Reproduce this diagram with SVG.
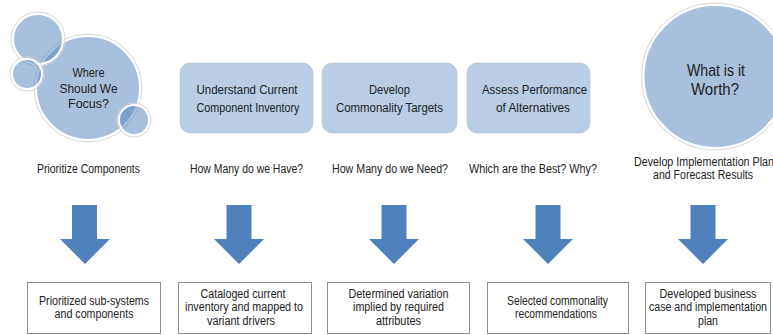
<svg xmlns="http://www.w3.org/2000/svg" width="773" height="335" viewBox="0 0 773 335">
  <style>
    text { font-family: "Liberation Sans", Arial, sans-serif; fill: #222222; text-anchor: middle; }
    .lbl { font-size: 12px; }
    .box { font-size: 12.5px; }
    .res { font-size: 12.5px; }
    .ball { fill: #4f81bd; fill-opacity: 0.5; stroke: #ffffff; stroke-width: 2; }
    .halo { fill: none; stroke: #d6d6d6; stroke-width: 1; }
    .step { fill: #b9cde5; stroke: #aebfd3; stroke-width: 0.6; }
    .result { fill: #ffffff; stroke: #8a929c; stroke-width: 1; }
    .arrow { fill: #4f81bd; }
  </style>

  <!-- focus cluster -->
  <g id="focus">
    <circle class="halo" cx="88" cy="88" r="54"/>
    <circle class="ball" cx="88" cy="88" r="52"/>
    <circle class="halo" cx="38" cy="39" r="27"/>
    <circle class="ball" cx="38" cy="39" r="25"/>
    <circle class="halo" cx="27" cy="74" r="17"/>
    <circle class="ball" cx="27" cy="74" r="15"/>
    <circle class="halo" cx="134" cy="120" r="17"/>
    <circle class="ball" cx="134" cy="120" r="15"/>
    <text class="box" x="88.5" y="77" textLength="32" lengthAdjust="spacingAndGlyphs">Where</text>
    <text class="box" x="88.5" y="93" textLength="58" lengthAdjust="spacingAndGlyphs">Should We</text>
    <text class="box" x="88.5" y="108" textLength="41" lengthAdjust="spacingAndGlyphs">Focus?</text>
  </g>

  <!-- process steps -->
  <g id="inventory">
    <rect class="step" x="180" y="63" width="133" height="70" rx="10"/>
    <text class="box" x="247" y="94" textLength="101" lengthAdjust="spacingAndGlyphs">Understand Current</text>
    <text class="box" x="248" y="112" textLength="103" lengthAdjust="spacingAndGlyphs">Component Inventory</text>
  </g>
  <g id="targets">
    <rect class="step" x="322" y="63" width="135" height="70" rx="10"/>
    <text class="box" x="389.5" y="94" textLength="41" lengthAdjust="spacingAndGlyphs">Develop</text>
    <text class="box" x="389.5" y="112" textLength="107" lengthAdjust="spacingAndGlyphs">Commonality Targets</text>
  </g>
  <g id="alternatives">
    <rect class="step" x="467" y="63" width="123" height="70" rx="10"/>
    <text class="box" x="534.5" y="94" textLength="105" lengthAdjust="spacingAndGlyphs">Assess Performance</text>
    <text class="box" x="533" y="112" textLength="74" lengthAdjust="spacingAndGlyphs">of Alternatives</text>
  </g>

  <!-- worth circle -->
  <g id="worth">
    <circle class="halo" cx="715" cy="76.5" r="73.5"/>
    <circle cx="715" cy="76.5" r="71.5" fill="#a7c0de" stroke="#ffffff" stroke-width="2"/>
    <text x="716" y="76" font-size="16" textLength="58" lengthAdjust="spacingAndGlyphs">What is it</text>
    <text x="715" y="95" font-size="16" textLength="48" lengthAdjust="spacingAndGlyphs">Worth?</text>
  </g>

  <!-- question labels -->
  <g id="labels">
    <text class="lbl" x="88.5" y="173" textLength="103" lengthAdjust="spacingAndGlyphs">Prioritize Components</text>
    <text class="lbl" x="246.5" y="173" textLength="113" lengthAdjust="spacingAndGlyphs">How Many do we Have?</text>
    <text class="lbl" x="390" y="173" textLength="116" lengthAdjust="spacingAndGlyphs">How Many do we Need?</text>
    <text class="lbl" x="533" y="173" textLength="128" lengthAdjust="spacingAndGlyphs">Which are the Best?  Why?</text>
    <text class="lbl" x="704" y="166" textLength="140" lengthAdjust="spacingAndGlyphs">Develop Implementation Plan</text>
    <text class="lbl" x="703" y="179" textLength="100" lengthAdjust="spacingAndGlyphs">and Forecast Results</text>
  </g>

  <!-- down arrows -->
  <g id="connectors">
    <polygon class="arrow" points="72,205 97,205 97,239 110,239 85,264 60,239 72,239"/>
    <polygon class="arrow" points="226.5,205 251.5,205 251.5,239 264,239 239,264 214,239 226.5,239"/>
    <polygon class="arrow" points="381.5,205 406.5,205 406.5,239 419,239 394,264 369,239 381.5,239"/>
    <polygon class="arrow" points="535.5,205 560.5,205 560.5,239 573,239 548,264 523,239 535.5,239"/>
    <polygon class="arrow" points="690.5,205 715.5,205 715.5,239 728,239 703,264 678,239 690.5,239"/>
  </g>

  <!-- outcomes -->
  <g id="outcome-priorities">
    <rect class="result" x="27.5" y="282.5" width="133" height="51"/>
    <text class="res" x="94" y="304.5" textLength="110" lengthAdjust="spacingAndGlyphs">Prioritized sub-systems</text>
    <text class="res" x="94" y="318" textLength="79" lengthAdjust="spacingAndGlyphs">and components</text>
  </g>
  <g id="outcome-catalog">
    <rect class="result" x="178.5" y="282.5" width="133" height="51"/>
    <text class="res" x="243" y="297.5" textLength="85" lengthAdjust="spacingAndGlyphs">Cataloged current</text>
    <text class="res" x="244" y="311" textLength="118" lengthAdjust="spacingAndGlyphs">inventory and mapped to</text>
    <text class="res" x="241" y="324.5" textLength="68" lengthAdjust="spacingAndGlyphs">variant drivers</text>
  </g>
  <g id="outcome-variation">
    <rect class="result" x="327.5" y="282.5" width="142" height="51"/>
    <text class="res" x="398.5" y="297.5" textLength="100" lengthAdjust="spacingAndGlyphs">Determined variation</text>
    <text class="res" x="398.5" y="311" textLength="91" lengthAdjust="spacingAndGlyphs">implied by required</text>
    <text class="res" x="398.5" y="324.5" textLength="45" lengthAdjust="spacingAndGlyphs">attributes</text>
  </g>
  <g id="outcome-selection">
    <rect class="result" x="487.5" y="282.5" width="141" height="51"/>
    <text class="res" x="557.5" y="304.5" textLength="101" lengthAdjust="spacingAndGlyphs">Selected commonality</text>
    <text class="res" x="556" y="318" textLength="82" lengthAdjust="spacingAndGlyphs">recommendations</text>
  </g>
  <g id="outcome-business">
    <rect class="result" x="645.5" y="282.5" width="125" height="51"/>
    <text class="res" x="708" y="297.5" textLength="97" lengthAdjust="spacingAndGlyphs">Developed business</text>
    <text class="res" x="708" y="311" textLength="118" lengthAdjust="spacingAndGlyphs">case and implementation</text>
    <text class="res" x="708" y="324.5" textLength="20" lengthAdjust="spacingAndGlyphs">plan</text>
  </g>
</svg>
